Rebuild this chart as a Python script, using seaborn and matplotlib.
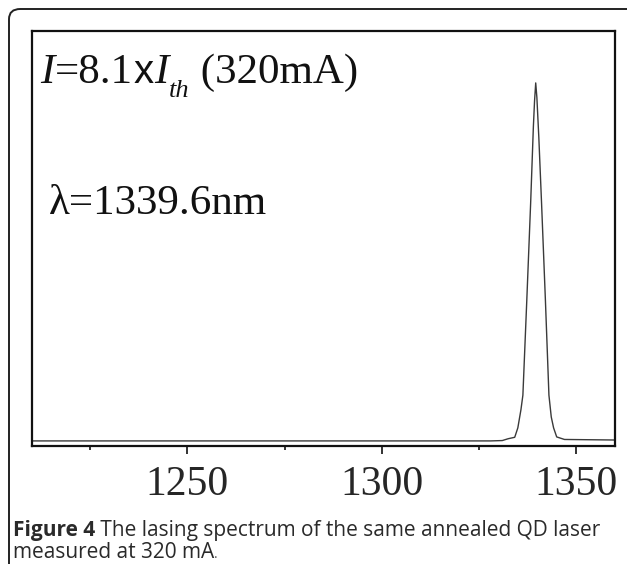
import matplotlib
matplotlib.use("Agg")
import matplotlib.pyplot as plt
from matplotlib.patches import FancyBboxPatch
from matplotlib.ticker import FixedLocator
import numpy as np
import pandas as pd
import seaborn as sns

# Emission spectrum (wavelength in nm, normalised intensity)
wavelength = [1210.0, 1250.0, 1300.0, 1328.0, 1331.0, 1332.5, 1334.2, 1335.0,
              1335.8, 1336.3, 1337.3, 1338.3, 1339.0, 1339.3, 1339.6, 1339.9,
              1340.4, 1341.1, 1342.1, 1343.0, 1343.6, 1344.2, 1345.0, 1347.0,
              1360.0]
intensity = [0.014, 0.014, 0.014, 0.014, 0.015, 0.020, 0.024, 0.050,
             0.100, 0.140, 0.400, 0.670, 0.880, 0.950, 1.000, 0.960,
             0.850, 0.670, 0.400, 0.140, 0.080, 0.050, 0.025, 0.018,
             0.0165]

major_ticks = [1250, 1300, 1350]
minor_ticks = [1225, 1275, 1325]

# current label, split into runs: (text, font family, style, size, baseline drop px)
current_runs = [
    ("I", "Liberation Serif", "italic", 31, 0),
    ("=8.1", "Liberation Serif", "normal", 31, 0),
    ("x", "Liberation Sans", "normal", 29, 0),
    ("I", "Liberation Serif", "italic", 31, 0),
    ("th", "Liberation Serif", "italic", 19, 14),
    (" (320mA)", "Liberation Serif", "normal", 31, 0),
]
label_peak = "λ=1339.6nm"
caption_bold = "Figure 4"
caption_rest = " The lasing spectrum of the same annealed QD laser"
caption_line2 = "measured at 320 mA"

sns.set_theme(style="white")
plt.rcParams["font.family"] = ["Liberation Serif", "DejaVu Serif"]

W, H = 627, 564
fig = plt.figure(figsize=(W / 100, H / 100), dpi=100)
fig.patch.set_facecolor("white")

# rounded panel outline running off the right and bottom edges
panel = FancyBboxPatch((9 / W, -0.1), 1.2, 1 - 9 / H + 0.1,
                       boxstyle="round,pad=0,rounding_size=0.018",
                       transform=fig.transFigure, fill=False,
                       edgecolor="#222222", linewidth=1.4, clip_on=False)
fig.patches.append(panel)

left, right, top, bottom = 32, 615, 31, 446
ax = fig.add_axes([left / W, 1 - bottom / H, (right - left) / W, (bottom - top) / H])

df = pd.DataFrame({"wavelength": wavelength, "intensity": intensity})
sns.lineplot(data=df, x="wavelength", y="intensity", ax=ax,
             color="#3a3a3a", linewidth=1.0, estimator=None, sort=False)

ax.set_xlim(1210, 1360)
ax.set_ylim(0, 1.143)
ax.set_xlabel("")
ax.set_ylabel("")
ax.set_yticks([])
ax.xaxis.set_major_locator(FixedLocator(major_ticks))
ax.xaxis.set_minor_locator(FixedLocator(minor_ticks))
ax.set_xticklabels([str(t) for t in major_ticks])
ax.tick_params(axis="x", which="major", direction="out", length=6, width=1.2,
               bottom=True, labelsize=30, pad=8, color="#111111")
ax.tick_params(axis="x", which="minor", direction="out", length=3, width=1.2,
               bottom=True, color="#111111")
for sp in ax.spines.values():
    sp.set_visible(True)
    sp.set_color("#111111")
    sp.set_linewidth(1.6)

renderer = fig.canvas.get_renderer()

# current label drawn run by run in figure pixels
x_px, base_px = 40, 83
for txt, fam, style, size, drop in current_runs:
    t = fig.text(x_px / W, 1 - (base_px + drop) / H, txt, fontsize=size,
                 family=[fam, "DejaVu Sans"], style=style, color="#111111",
                 ha="left", va="baseline")
    x_px = t.get_window_extent(renderer=renderer).x1 + 0.5

fig.text(49 / W, 1 - 214 / H, label_peak, fontsize=31, color="#111111",
         ha="left", va="baseline")

# caption below the panel content
cap_color = "#2a2a2a"
cap_size = 15.0
cap_font = ["Open Sans", "DejaVu Sans"]
t1 = fig.text(13 / W, 1 - 536 / H, caption_bold, fontsize=cap_size, fontweight="bold",
              family=cap_font, color=cap_color, ha="left", va="baseline")
bb = t1.get_window_extent(renderer=renderer)
fig.text(bb.x1 / W, 1 - 536 / H, caption_rest, fontsize=cap_size,
         family=cap_font, color=cap_color, ha="left", va="baseline")
t3 = fig.text(13 / W, 1 - 558 / H, caption_line2, fontsize=cap_size,
              family=cap_font, color=cap_color, ha="left", va="baseline")
bb3 = t3.get_window_extent(renderer=renderer)
fig.text(bb3.x1 / W, 1 - 558 / H, ".", fontsize=10,
         family=cap_font, color="#555555", ha="left", va="baseline")

fig.savefig("out.png", dpi=100)
